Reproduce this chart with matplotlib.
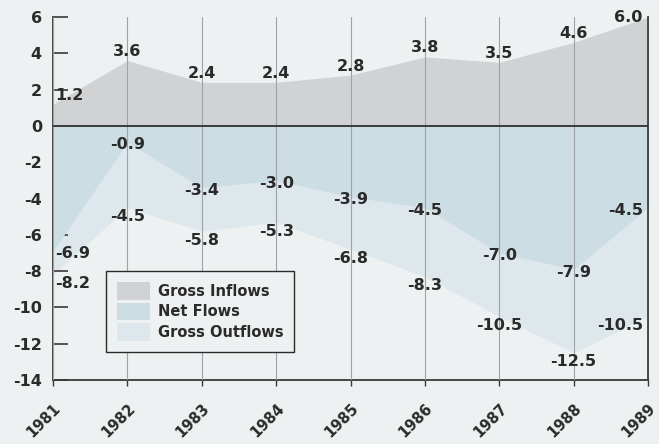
import matplotlib
matplotlib.use("Agg")
import matplotlib.pyplot as plt
from matplotlib.patches import Patch
from matplotlib.transforms import ScaledTranslation

years = [1981, 1982, 1983, 1984, 1985, 1986, 1987, 1988, 1989]
gross_inflows = [1.2, 3.6, 2.4, 2.4, 2.8, 3.8, 3.5, 4.6, 6.0]
net_flows = [-6.9, -0.9, -3.4, -3.0, -3.9, -4.5, -7.0, -7.9, -4.5]
gross_outflows = [-8.2, -4.5, -5.8, -5.3, -6.8, -8.3, -10.5, -12.5, -10.5]
y_ticks = [6, 4, 2, 0, -2, -4, -6, -8, -10, -12, -14]

plt.rcParams['font.family'] = ['DejaVu Sans']
bg = '#eef1f1'
c_in = '#d0d2d3'
c_net = '#ccdde3'
c_out = '#dde7ec'
txt = '#2a2a2a'
FS = 11.5

fig = plt.figure(figsize=(6.59, 4.44), dpi=100, facecolor=bg)
ax = fig.add_axes([53/659, 1-380/444, 595/659, 363/444])
ax.set_facecolor(bg)

ax.fill_between(years, 0, gross_outflows, color=c_out, lw=0, zorder=1)
ax.fill_between(years, 0, net_flows, color=c_net, lw=0, zorder=2)
ax.fill_between(years, 0, gross_inflows, color=c_in, lw=0, zorder=2)

for x in years:
    ax.axvline(x, color='#9da3a7', lw=0.8, zorder=3)
ax.axhline(0, color='#3a3a3a', lw=1.4, zorder=4)

ax.set_xlim(1981, 1989)
ax.set_ylim(-14, 6)
ax.set_yticks(y_ticks)
ax.set_yticklabels([str(v) for v in y_ticks], fontweight='bold', fontsize=FS, color=txt)
ax.set_xticks(years)
ax.set_xticklabels([str(y) for y in years], rotation=45, ha='center', va='top',
                   fontweight='bold', fontsize=10.5, color=txt)
ax.tick_params(axis='y', direction='in', length=11, width=1.2, color='#3a3a3a', pad=8)
ax.tick_params(axis='x', direction='out', length=4, width=1.0, color='#3a3a3a', pad=11)
off = ScaledTranslation(-9/100, 0, fig.dpi_scale_trans)
for lab in ax.get_xticklabels():
    lab.set_transform(lab.get_transform() + off)
for s in ['left', 'right', 'bottom']:
    ax.spines[s].set_color('#3a3a3a')
    ax.spines[s].set_linewidth(1.3)
ax.spines['top'].set_visible(False)

def ha_for(i):
    if i == 0:
        return 'left'
    if i == len(years) - 1:
        return 'right'
    return 'center'

def dx_for(i):
    if i == 0:
        return 0.03
    if i == len(years) - 1:
        return -0.07
    return 0

for i, (x, v) in enumerate(zip(years, gross_inflows)):
    ax.text(x + dx_for(i), min(v + 0.5, 6.0), f"{v:.1f}", ha=ha_for(i), va='center',
            fontsize=FS, fontweight='bold', color=txt, zorder=6)
for series, dy in ((net_flows, -0.15), (gross_outflows, -0.5)):
    for i, (x, v) in enumerate(zip(years, series)):
        ax.text(x + dx_for(i), v + dy, f"{v:.1f}", ha=ha_for(i), va='center',
                fontsize=FS, fontweight='bold', color=txt, zorder=6)

handles = [Patch(facecolor=c_in, edgecolor='none', label='Gross Inflows'),
           Patch(facecolor=c_net, edgecolor='none', label='Net Flows'),
           Patch(facecolor=c_out, edgecolor='none', label='Gross Outflows')]
leg = ax.legend(handles=handles, loc='lower left', bbox_to_anchor=(0.089, 0.077),
                borderaxespad=0, frameon=True, fancybox=False, edgecolor='#2a2a2a',
                facecolor=bg, framealpha=1, prop={'weight': 'bold', 'size': 10.5},
                handlelength=2.3, handleheight=1.5, labelspacing=0.2,
                borderpad=0.75, handletextpad=0.5, labelcolor=txt)
leg.get_frame().set_linewidth(1.0)
leg.set_zorder(7)

fig.savefig('out.png', dpi=100, facecolor=bg)
